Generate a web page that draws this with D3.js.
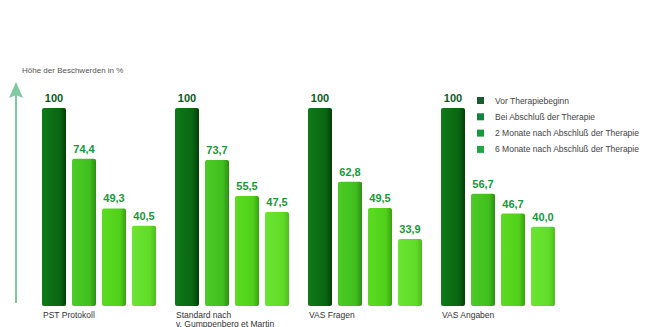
<!DOCTYPE html>
<html>
<head>
<meta charset="utf-8">
<title>Höhe der Beschwerden</title>
<script src="https://cdn.jsdelivr.net/npm/d3@7/dist/d3.min.js"></script>
<style>
  body { margin: 0; background: #fff; }
  text { font-family: "Liberation Sans", Arial, sans-serif; }
</style>
</head>
<body>
<script>
// Daten
var categories = ["PST Protokoll", "Standard nach\nv. Gumppenberg et Martin", "VAS Fragen", "VAS Angaben"];
var seriesNames = ["Vor Therapiebeginn", "Bei Abschluß der Therapie", "2 Monate nach Abschluß der Therapie", "6 Monate nach Abschluß der Therapie"];
var vorTherapie = [100, 100, 100, 100];
var beiAbschluss = [74.4, 73.7, 62.8, 56.7];
var zweiMonate = [49.3, 55.5, 49.5, 46.7];
var sechsMonate = [40.5, 47.5, 33.9, 40.0];
var valueLabels = [
  ["100", "100", "100", "100"],
  ["74,4", "73,7", "62,8", "56,7"],
  ["49,3", "55,5", "49,5", "46,7"],
  ["40,5", "47,5", "33,9", "40,0"]
];

var allSeries = [vorTherapie, beiAbschluss, zweiMonate, sechsMonate];

var width = 649, height = 327;
var baseY = 306, topY = 108;

var barColors = [
  ["#0f7a18", "#0a6512", "#053f08"],
  ["#4ccc26", "#40be1e", "#2c8e14"],
  ["#5cdc20", "#50d01a", "#3aa010"],
  ["#6ae632", "#60dc28", "#4ebc1e"]
];
var labelColors = ["#0d5a22", "#17983a", "#17983a", "#17983a"];
var legendColors = ["#1a5a2e", "#10843c", "#139a3e", "#1ea844"];

var svg = d3.select("body").append("svg")
  .attr("width", width)
  .attr("height", height);

var defs = svg.append("defs");
barColors.forEach(function(c, i) {
  var g = defs.append("linearGradient").attr("id", "grad" + i)
    .attr("x1", "0").attr("x2", "1").attr("y1", "0").attr("y2", "0");
  g.append("stop").attr("offset", "0").attr("stop-color", c[0]);
  g.append("stop").attr("offset", "0.75").attr("stop-color", c[1]);
  g.append("stop").attr("offset", "1").attr("stop-color", c[2]);
});

var x0 = d3.scaleBand().domain(d3.range(categories.length)).range([42, 574]);
var x1 = d3.scaleBand().domain(d3.range(seriesNames.length)).range([0, 114]).paddingInner(0.2);
var y = d3.scaleLinear().domain([0, 100]).range([baseY, topY]);

// Pfeil
svg.append("line")
  .attr("x1", 16).attr("x2", 16)
  .attr("y1", 303).attr("y2", 92)
  .attr("stroke", "#7cc9a2").attr("stroke-width", 2);
svg.append("path")
  .attr("d", "M16,82 L9,98 L16,95 L23,98 Z")
  .attr("fill", "#7cc9a2");

svg.append("text")
  .attr("x", 22).attr("y", 73)
  .attr("font-size", 8).attr("fill", "#555")
  .text("Höhe der Beschwerden in %");

var groups = svg.selectAll("g.grp")
  .data(categories)
  .enter().append("g")
  .attr("class", "grp")
  .attr("transform", function(d, i) { return "translate(" + x0(i) + ",0)"; });

groups.each(function(cat, ci) {
  var g = d3.select(this);
  var bars = allSeries.map(function(s, si) { return { si: si, v: s[ci], lab: valueLabels[si][ci] }; });

  g.selectAll("rect")
    .data(bars)
    .enter().append("rect")
    .attr("x", function(d) { return x1(d.si); })
    .attr("y", function(d) { return y(d.v); })
    .attr("width", x1.bandwidth())
    .attr("height", function(d) { return baseY - y(d.v); })
    .attr("rx", 2)
    .attr("fill", function(d) { return "url(#grad" + d.si + ")"; });

  g.selectAll("text.val")
    .data(bars)
    .enter().append("text")
    .attr("class", "val")
    .attr("x", function(d) { return x1(d.si) + x1.bandwidth() / 2; })
    .attr("y", function(d) { return y(d.v) - 6; })
    .attr("text-anchor", "middle")
    .attr("font-family", "'DejaVu Sans', Verdana, sans-serif")
    .attr("font-weight", "bold")
    .attr("font-size", 11)
    .attr("fill", function(d) { return labelColors[d.si]; })
    .text(function(d) { return d.lab; });

  var lines = cat.split("\n");
  g.append("text")
    .attr("x", 1).attr("y", 318)
    .attr("font-size", 8.5).attr("fill", "#333")
    .selectAll("tspan")
    .data(lines)
    .enter().append("tspan")
    .attr("x", 1)
    .attr("dy", function(d, i) { return i ? 8.5 : 0; })
    .text(function(d) { return d; });
});

// Legende
var legend = svg.selectAll("g.leg")
  .data(seriesNames)
  .enter().append("g")
  .attr("class", "leg")
  .attr("transform", function(d, i) { return "translate(477," + (97 + i * 16.3) + ")"; });
legend.append("rect")
  .attr("width", 7).attr("height", 7)
  .attr("fill", function(d, i) { return legendColors[i]; });
legend.append("text")
  .attr("x", 18).attr("y", 6.5)
  .attr("font-size", 8.5).attr("fill", "#444")
  .text(function(d) { return d; });
</script>
</body>
</html>
